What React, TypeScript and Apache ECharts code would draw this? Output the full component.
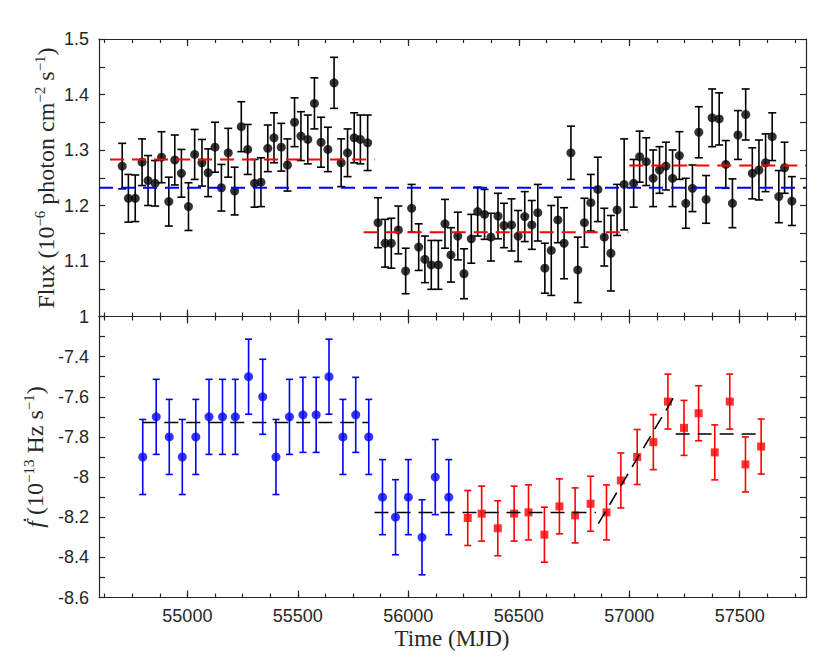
import React, { useEffect, useRef } from 'react';
import * as echarts from 'echarts';

// ---------- data ----------
const fluxMjd = [54705, 54733, 54764, 54795, 54822, 54854, 54883, 54916, 54943, 54973, 55005, 55033, 55066, 55094, 55125, 55154, 55185, 55214, 55244, 55273, 55304, 55333, 55364, 55392, 55425, 55453, 55485, 55514, 55545, 55575, 55605, 55636, 55664, 55696, 55725, 55755, 55783, 55816, 55863, 55895, 55923, 55955, 55988, 56015, 56047, 56075, 56104, 56136, 56166, 56193, 56224, 56252, 56285, 56314, 56345, 56374, 56406, 56433, 56467, 56497, 56527, 56559, 56586, 56618, 56647, 56677, 56705, 56736, 56767, 56797, 56826, 56858, 56887, 56917, 56945, 56977, 57020, 57047, 57077, 57108, 57137, 57166, 57196, 57227, 57256, 57286, 57315, 57348, 57375, 57407, 57437, 57467, 57492, 57527, 57557, 57587, 57617, 57647, 57677, 57703, 57736];
const fluxVal = [1.271, 1.213, 1.213, 1.278, 1.245, 1.240, 1.287, 1.207, 1.282, 1.258, 1.198, 1.292, 1.277, 1.259, 1.305, 1.232, 1.295, 1.226, 1.342, 1.301, 1.240, 1.242, 1.303, 1.322, 1.305, 1.273, 1.350, 1.325, 1.319, 1.384, 1.314, 1.301, 1.421, 1.277, 1.295, 1.322, 1.319, 1.313, 1.169, 1.132, 1.132, 1.156, 1.082, 1.195, 1.125, 1.103, 1.093, 1.093, 1.167, 1.111, 1.145, 1.077, 1.140, 1.189, 1.184, 1.143, 1.181, 1.164, 1.165, 1.145, 1.180, 1.165, 1.187, 1.087, 1.119, 1.174, 1.132, 1.295, 1.084, 1.169, 1.205, 1.229, 1.143, 1.114, 1.192, 1.238, 1.240, 1.288, 1.279, 1.249, 1.264, 1.271, 1.249, 1.290, 1.204, 1.231, 1.332, 1.211, 1.358, 1.356, 1.274, 1.204, 1.327, 1.364, 1.258, 1.264, 1.277, 1.324, 1.216, 1.268, 1.208];
const fluxErr = [0.041, 0.043, 0.042, 0.042, 0.045, 0.041, 0.046, 0.044, 0.045, 0.043, 0.043, 0.045, 0.042, 0.043, 0.045, 0.042, 0.044, 0.043, 0.045, 0.045, 0.043, 0.044, 0.042, 0.045, 0.043, 0.047, 0.044, 0.044, 0.044, 0.046, 0.045, 0.040, 0.046, 0.043, 0.043, 0.045, 0.044, 0.050, 0.045, 0.043, 0.045, 0.043, 0.041, 0.043, 0.042, 0.042, 0.044, 0.044, 0.044, 0.049, 0.043, 0.045, 0.044, 0.044, 0.045, 0.043, 0.041, 0.040, 0.047, 0.046, 0.045, 0.044, 0.051, 0.045, 0.081, 0.041, 0.064, 0.048, 0.059, 0.044, 0.051, 0.058, 0.052, 0.068, 0.046, 0.082, 0.043, 0.046, 0.043, 0.051, 0.042, 0.043, 0.051, 0.043, 0.045, 0.042, 0.046, 0.043, 0.052, 0.047, 0.043, 0.044, 0.044, 0.046, 0.046, 0.054, 0.052, 0.043, 0.047, 0.046, 0.044];

// flux step levels: [start, end, level]
const fluxStepStart = [54650, 55798, 57000];
const fluxStepEnd = [55847, 56996, 57800];
const fluxStepLevel = [1.283, 1.152, 1.272];
const fluxMean = 1.232;

const blueMjd = [54798, 54859, 54918, 54977, 55038, 55098, 55159, 55217, 55277, 55341, 55401, 55462, 55523, 55583, 55641, 55704, 55762, 55821, 55883, 55942, 56000, 56062, 56122, 56183];
const blueVal = [-7.9, -7.7, -7.8, -7.9, -7.8, -7.7, -7.7, -7.7, -7.5, -7.6, -7.9, -7.7, -7.69, -7.69, -7.5, -7.8, -7.69, -7.8, -8.1, -8.2, -8.1, -8.3, -8.0, -8.1];
const blueErr = [0.187, 0.187, 0.187, 0.187, 0.187, 0.187, 0.187, 0.187, 0.187, 0.187, 0.187, 0.187, 0.187, 0.187, 0.187, 0.187, 0.187, 0.187, 0.187, 0.187, 0.187, 0.187, 0.187, 0.187];

const redMjd = [56269, 56332, 56405, 56479, 56544, 56616, 56684, 56755, 56825, 56897, 56962, 57036, 57109, 57175, 57248, 57314, 57387, 57455, 57526, 57597];
const redVal = [-8.204, -8.182, -8.255, -8.182, -8.176, -8.287, -8.146, -8.191, -8.133, -8.176, -8.017, -7.900, -7.826, -7.624, -7.755, -7.682, -7.877, -7.624, -7.937, -7.848];
const redErr = [0.137, 0.137, 0.137, 0.137, 0.137, 0.137, 0.137, 0.137, 0.137, 0.137, 0.137, 0.137, 0.137, 0.137, 0.137, 0.137, 0.137, 0.137, 0.137, 0.137];

// fdot fit segments: [x1, y1, x2, y2]
const fitX1 = [54796, 55847, 56860, 57210];
const fitY1 = [-7.728, -8.177, -8.232, -7.786];
const fitX2 = [55820, 56849, 57210, 57595];
const fitY2 = [-7.728, -8.177, -7.586, -7.786];

const xMajorTicks = [55000, 55500, 56000, 56500, 57000, 57500];
const X_MIN = 54600;
const X_MAX = 57800;

// ---------- styling ----------
const AX = '#262626';
const SANS = 'Liberation Sans, Arial, Helvetica, sans-serif';
const SERIF = 'Liberation Serif, Times New Roman, serif';

function minorTicks(): number[] {
  const out: number[] = [];
  for (let v = 54625; v <= 57750; v += 125) out.push(v);
  return out;
}

function xAxisDef(gridIndex: number, position: string, ticks: number[], len: number, showLine: boolean, showLabel: boolean) {
  return {
    type: 'value',
    gridIndex,
    position,
    min: X_MIN,
    max: X_MAX,
    axisLine: { show: showLine, onZero: false, lineStyle: { color: AX, width: 1.2 } },
    axisTick: { show: true, inside: true, length: len, customValues: ticks, lineStyle: { color: AX, width: 1.2 } },
    axisLabel: {
      show: showLabel,
      customValues: xMajorTicks,
      formatter: (v: number) => String(Math.round(v)),
      color: AX,
      fontSize: 18,
      fontFamily: SANS,
      margin: 9,
    },
    splitLine: { show: false },
  };
}

function yAxisDef(gridIndex: number, position: string, min: number, max: number, interval: number, showLabel: boolean) {
  return {
    type: 'value',
    gridIndex,
    position,
    min,
    max,
    interval,
    axisLine: { show: true, onZero: false, lineStyle: { color: AX, width: 1.2 } },
    axisTick: { show: true, inside: true, length: 6, lineStyle: { color: AX, width: 1.2 } },
    minorTick: { show: true, splitNumber: 2, length: 6, lineStyle: { color: AX, width: 1.2 } },
    axisLabel: {
      show: showLabel,
      color: AX,
      fontSize: 18,
      fontFamily: SANS,
      margin: 10,
      showMaxLabel: max > 0,
      showMinLabel: true,
    },
    splitLine: { show: false },
    minorSplitLine: { show: false },
  };
}

function errorBars(xIdx: number, yIdx: number, xs: number[], ys: number[], es: number[], color: string, capHalf: number) {
  return {
    type: 'custom',
    xAxisIndex: xIdx,
    yAxisIndex: yIdx,
    silent: true,
    data: xs.map((x, i) => [x, ys[i], es[i]]),
    encode: { x: 0, y: 1 },
    renderItem: (params: any, api: any) => {
      const x = api.value(0);
      const y = api.value(1);
      const e = api.value(2);
      const top = api.coord([x, y + e]);
      const bot = api.coord([x, y - e]);
      const st = { stroke: color, lineWidth: 1.6 };
      return {
        type: 'group',
        children: [
          { type: 'line', shape: { x1: top[0], y1: top[1], x2: bot[0], y2: bot[1] }, style: st },
          { type: 'line', shape: { x1: top[0] - capHalf, y1: top[1], x2: top[0] + capHalf, y2: top[1] }, style: st },
          { type: 'line', shape: { x1: bot[0] - capHalf, y1: bot[1], x2: bot[0] + capHalf, y2: bot[1] }, style: st },
        ],
      };
    },
  };
}

function dashed(xIdx: number, yIdx: number, p1: number[], p2: number[], color: string, width: number) {
  return {
    type: 'line',
    xAxisIndex: xIdx,
    yAxisIndex: yIdx,
    data: [p1, p2],
    showSymbol: false,
    symbol: 'none',
    silent: true,
    lineStyle: { color, width, type: [14, 8] },
    z: 5,
  };
}

const supStyle = (size: number) => ({ fontFamily: SERIF, fontSize: size, lineHeight: size, verticalAlign: 'top', fill: AX, color: AX });

export default function App() {
  const ref = useRef<HTMLDivElement>(null);

  useEffect(() => {
    if (!ref.current) return;
    const chart = echarts.init(ref.current, undefined, { renderer: 'svg' });
    const minor = minorTicks();

    const series: any[] = [];
    // top panel
    series.push(errorBars(0, 0, fluxMjd, fluxVal, fluxErr, '#000000', 4));
    series.push({
      type: 'scatter',
      xAxisIndex: 0,
      yAxisIndex: 0,
      data: fluxMjd.map((x, i) => [x, fluxVal[i]]),
      symbol: 'circle',
      symbolSize: 9,
      itemStyle: { color: '#000000' },
      silent: true,
      z: 3,
    });
    fluxStepStart.forEach((s, i) => {
      series.push(dashed(0, 0, [s, fluxStepLevel[i]], [fluxStepEnd[i], fluxStepLevel[i]], '#ff0000', 2));
    });
    series.push(dashed(0, 0, [X_MIN, fluxMean], [X_MAX, fluxMean], '#0000ff', 2));

    // bottom panel
    series.push(errorBars(4, 2, blueMjd, blueVal, blueErr, '#0000ff', 3.5));
    series.push(errorBars(4, 2, redMjd, redVal, redErr, '#ff0000', 3.5));
    series.push({
      type: 'scatter',
      xAxisIndex: 4,
      yAxisIndex: 2,
      data: blueMjd.map((x, i) => [x, blueVal[i]]),
      symbol: 'circle',
      symbolSize: 9,
      itemStyle: { color: '#0000ff' },
      silent: true,
      z: 3,
    });
    series.push({
      type: 'scatter',
      xAxisIndex: 4,
      yAxisIndex: 2,
      data: redMjd.map((x, i) => [x, redVal[i]]),
      symbol: 'rect',
      symbolSize: 8,
      itemStyle: { color: '#ff0000' },
      silent: true,
      z: 3,
    });
    fitX1.forEach((x1, i) => {
      series.push(dashed(4, 2, [x1, fitY1[i]], [fitX2[i], fitY2[i]], '#000000', 1.5));
    });

    const mainStyle = { fontFamily: SERIF, fontSize: 24, lineHeight: 28, fill: AX, color: AX };

    chart.setOption({
      animation: false,
      backgroundColor: '#ffffff',
      grid: [
        { left: 99, top: 39, width: 707, height: 277.5, containLabel: false },
        { left: 99, top: 316.5, width: 707, height: 281, containLabel: false },
      ],
      xAxis: [
        xAxisDef(0, 'bottom', xMajorTicks, 7, true, false),
        xAxisDef(0, 'bottom', minor, 4, false, false),
        xAxisDef(0, 'top', xMajorTicks, 7, true, false),
        xAxisDef(0, 'top', minor, 4, false, false),
        xAxisDef(1, 'bottom', xMajorTicks, 7, true, true),
        xAxisDef(1, 'bottom', minor, 4, false, false),
        xAxisDef(1, 'top', xMajorTicks, 7, true, false),
        xAxisDef(1, 'top', minor, 4, false, false),
      ],
      yAxis: [
        yAxisDef(0, 'left', 1, 1.5, 0.1, true),
        yAxisDef(0, 'right', 1, 1.5, 0.1, false),
        yAxisDef(1, 'left', -8.6, -7.2, 0.2, true),
        yAxisDef(1, 'right', -8.6, -7.2, 0.2, false),
      ],
      graphic: [
        {
          type: 'text',
          x: 46,
          y: 178,
          rotation: Math.PI / 2,
          style: {
            text: '{m|Flux (10}{s|−6}{m| photon cm}{s|−2}{m| s}{s|−1}{m|)}',
            rich: { m: mainStyle, s: supStyle(15) },
            align: 'center',
            verticalAlign: 'middle',
          },
        },
        {
          type: 'text',
          x: 35,
          y: 457,
          rotation: Math.PI / 2,
          style: {
            text: '{f|ḟ}{m| (10}{s|−13}{m| Hz s}{s|−1}{m|)}',
            rich: {
              f: { ...mainStyle, fontStyle: 'italic' },
              m: mainStyle,
              s: supStyle(15),
            },
            align: 'center',
            verticalAlign: 'middle',
          },
        },
        {
          type: 'text',
          x: 452,
          y: 638,
          style: {
            text: 'Time (MJD)',
            fontFamily: SERIF,
            fontSize: 23,
            fill: AX,
            align: 'center',
            verticalAlign: 'middle',
          },
        },
      ],
      series,
    });

    return () => {
      chart.dispose();
    };
  }, []);

  return (
    <div
      ref={ref}
      style={{ position: 'absolute', left: 0, top: 0, width: 830, height: 665, background: '#fff' }}
    />
  );
}
